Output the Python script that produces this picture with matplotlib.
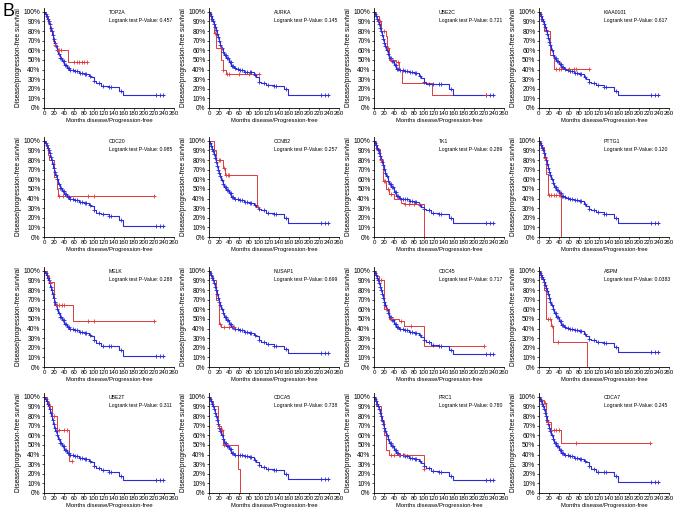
import numpy as np
import matplotlib
matplotlib.use("Agg")
import matplotlib.pyplot as plt

plt.rcParams['font.family'] = ['Liberation Sans', 'DejaVu Sans']

genes = ["TOP2A", "AURKA", "UBE2C", "KIAA0101",
         "CDC20", "CCNB2", "TK1", "PTTG1",
         "MELK", "NUSAP1", "CDC45", "ASPM",
         "UBE2T", "CDCA5", "PRC1", "CDCA7"]
pvalues = ["0.457", "0.145", "0.721", "0.617",
           "0.985", "0.257", "0.289", "0.120",
           "0.288", "0.699", "0.717", "0.0383",
           "0.311", "0.738", "0.780", "0.245"]

# low-expression group (blue), read at these months
blue_t = [0, 2, 4, 6, 8, 10, 12, 14, 16, 18, 20, 22, 25, 28, 31, 35, 40, 45,
          50, 55, 60, 70, 80, 90, 95, 100, 105, 115, 130, 150, 158, 240]
blue_s = {
    "TOP2A":    [100, 98, 96, 93, 90, 87, 83, 80, 76, 72, 68, 64, 60, 56, 52, 49, 45, 42, 40, 39, 38, 36, 35, 33, 32, 28, 26, 23, 22, 18, 14, 14],
    "AURKA":    [100, 98, 96, 93, 90, 87, 84, 81, 77, 74, 70, 66, 62, 58, 55, 52, 48, 44, 42, 41, 39, 37, 37, 34, 32, 27, 26, 24, 23, 20, 14, 14],
    "UBE2C":    [100, 98, 96, 93, 90, 87, 83, 80, 76, 72, 68, 64, 60, 56, 52, 49, 45, 41, 40, 39, 38, 37, 36, 33, 31, 27, 25, 25, 25, 20, 13, 13],
    "KIAA0101": [100, 98, 96, 93, 90, 87, 84, 81, 77, 73, 69, 65, 60, 55, 52, 49, 46, 43, 41, 40, 38, 36, 35, 32, 30, 27, 26, 24, 22, 18, 14, 14],
    "CDC20":    [100, 98, 96, 93, 90, 87, 83, 80, 76, 72, 68, 64, 60, 55, 51, 48, 45, 42, 40, 39, 38, 36, 35, 33, 32, 28, 25, 24, 22, 18, 11, 11],
    "CCNB2":    [100, 98, 95, 92, 89, 86, 82, 78, 74, 70, 67, 63, 59, 55, 52, 49, 46, 42, 40, 39, 38, 36, 35, 33, 31, 29, 28, 25, 24, 20, 15, 15],
    "TK1":      [100, 98, 96, 93, 90, 87, 84, 81, 78, 75, 71, 67, 63, 58, 55, 52, 47, 43, 41, 40, 39, 37, 36, 33, 31, 29, 28, 25, 24, 20, 15, 15],
    "PTTG1":    [100, 98, 96, 93, 90, 87, 83, 80, 76, 72, 68, 64, 60, 56, 52, 49, 46, 43, 42, 41, 40, 38, 37, 34, 32, 29, 28, 26, 24, 20, 15, 15],
    "MELK":     [100, 98, 96, 93, 90, 87, 83, 80, 76, 72, 68, 64, 60, 56, 52, 49, 45, 42, 40, 39, 38, 36, 35, 33, 32, 28, 25, 22, 22, 18, 11, 11],
    "NUSAP1":   [100, 98, 96, 93, 90, 87, 83, 80, 76, 72, 68, 64, 60, 56, 52, 49, 45, 42, 40, 39, 38, 36, 35, 33, 32, 28, 26, 24, 22, 19, 15, 15],
    "CDC45":    [100, 98, 96, 93, 90, 87, 83, 80, 76, 72, 68, 64, 60, 56, 52, 49, 45, 42, 40, 39, 38, 36, 35, 33, 31, 28, 26, 23, 22, 18, 13, 13],
    "ASPM":     [100, 98, 96, 94, 91, 88, 85, 82, 79, 76, 72, 68, 64, 60, 56, 52, 48, 44, 42, 41, 40, 38, 37, 34, 32, 29, 28, 26, 25, 21, 16, 16],
    "UBE2T":    [100, 98, 96, 93, 90, 87, 83, 80, 76, 72, 68, 64, 60, 56, 52, 49, 45, 42, 40, 39, 38, 36, 35, 33, 32, 28, 26, 24, 22, 18, 14, 14],
    "CDCA5":    [100, 98, 96, 93, 90, 87, 83, 80, 76, 72, 68, 64, 60, 56, 52, 49, 46, 42, 40, 39, 39, 38, 37, 34, 32, 29, 27, 25, 24, 20, 15, 15],
    "PRC1":     [100, 98, 96, 93, 90, 87, 83, 80, 76, 72, 68, 64, 60, 56, 52, 49, 45, 42, 40, 39, 38, 36, 35, 33, 31, 28, 26, 23, 22, 18, 13, 13],
    "CDCA7":    [100, 98, 96, 93, 90, 87, 83, 80, 76, 72, 68, 64, 60, 56, 52, 49, 45, 42, 40, 39, 38, 36, 35, 33, 32, 28, 25, 22, 22, 18, 11, 11],
}
blue_cens = [3, 5, 7, 9, 11, 13, 15, 17, 19, 21, 23, 26, 29, 32, 34, 37, 39, 42,
             44, 47, 49, 52, 58, 62, 66, 72, 76, 82, 85, 92, 100, 110, 118, 130,
             135, 155, 225, 232, 238]

# high-expression group (red)
red_t = {
    "TOP2A":    [0, 4, 8, 12, 18, 21, 25, 48, 87],
    "AURKA":    [0, 5, 10, 15, 25, 28, 35, 100],
    "UBE2C":    [0, 4, 10, 15, 25, 27, 30, 45, 50, 57, 117, 225],
    "KIAA0101": [0, 5, 10, 22, 30, 100],
    "CDC20":    [0, 4, 8, 10, 20, 25, 27, 220],
    "CCNB2":    [0, 5, 10, 15, 28, 32, 97, 98],
    "TK1":      [0, 5, 12, 18, 25, 30, 40, 55, 60, 100, 101],
    "PTTG1":    [0, 5, 10, 14, 18, 45, 45.5],
    "MELK":     [0, 5, 10, 20, 58, 220],
    "NUSAP1":   [0, 4, 8, 15, 20, 25, 50],
    "CDC45":    [0, 5, 10, 20, 30, 50, 60, 100, 220],
    "ASPM":     [0, 5, 10, 15, 25, 28, 97, 97.5],
    "UBE2T":    [0, 5, 10, 15, 25, 50, 55],
    "CDCA5":    [0, 4, 8, 18, 25, 28, 58, 62, 62.5],
    "PRC1":     [0, 5, 15, 20, 25, 30, 100, 101],
    "CDCA7":    [0, 5, 10, 15, 25, 45, 222],
}
red_s = {
    "TOP2A":    [100, 95, 88, 80, 70, 65, 60, 48, 48],
    "AURKA":    [100, 90, 78, 62, 50, 40, 35, 35],
    "UBE2C":    [100, 96, 90, 80, 75, 62, 50, 48, 40, 26, 13, 13],
    "KIAA0101": [100, 90, 80, 55, 41, 41],
    "CDC20":    [100, 95, 85, 80, 62, 50, 43, 43],
    "CCNB2":    [100, 100, 90, 80, 72, 64, 31, 31],
    "TK1":      [100, 92, 80, 58, 50, 45, 40, 35, 34, 0, 0],
    "PTTG1":    [100, 94, 82, 65, 44, 0, 0],
    "MELK":     [100, 95, 88, 64, 48, 48],
    "NUSAP1":   [100, 95, 90, 70, 45, 42, 42],
    "CDC45":    [100, 95, 90, 60, 50, 48, 43, 22, 22],
    "ASPM":     [100, 92, 80, 50, 43, 26, 0, 0],
    "UBE2T":    [100, 95, 90, 80, 65, 33, 33],
    "CDCA5":    [100, 96, 90, 70, 65, 50, 25, 0, 0],
    "PRC1":     [100, 90, 75, 60, 45, 40, 25, 25],
    "CDCA7":    [100, 97, 94, 74, 65, 52, 52],
}
red_cens = {
    "TOP2A":    [22, 27, 30, 33, 60, 65, 70, 75, 80, 87],
    "AURKA":    [13, 24, 29, 37, 40, 60, 80, 100],
    "UBE2C":    [12, 20, 28, 35, 48, 225],
    "KIAA0101": [35, 40, 45, 60, 70, 75, 100],
    "CDC20":    [30, 38, 88, 100, 220],
    "CCNB2":    [20, 23, 30, 35, 38, 40, 98],
    "TK1":      [15, 20, 22, 28, 35, 62, 70, 80, 90],
    "PTTG1":    [12, 20, 25, 30, 35, 40, 43],
    "MELK":     [12, 25, 30, 35, 40, 88, 100, 220],
    "NUSAP1":   [22, 30, 40, 50],
    "CDC45":    [15, 25, 35, 55, 75, 220],
    "ASPM":     [18, 22, 27, 38],
    "UBE2T":    [12, 20, 30, 40, 45, 55],
    "CDCA5":    [20, 26, 30],
    "PRC1":     [35, 40, 50, 60, 100],
    "CDCA7":    [12, 18, 30, 35, 40, 75, 222],
}

BLUE = "#2b2bd8"
RED = "#e23a3a"


def step_value(t, s, c):
    i = np.searchsorted(t, c, side="right") - 1
    return np.asarray(s)[i]


fig = plt.figure(figsize=(6.77, 5.13), dpi=100)
lefts = [0.065, 0.3087, 0.5524, 0.796]
bottoms = [0.7895, 0.538, 0.2846, 0.039]

for k, g in enumerate(genes):
    r, c = divmod(k, 4)
    ax = fig.add_axes([lefts[c], bottoms[r], 0.192, 0.195])

    rt, rs = red_t[g], red_s[g]
    ax.step(rt, rs, where="post", color=RED, lw=0.7)
    ax.step(blue_t, blue_s[g], where="post", color=BLUE, lw=0.8)
    bc = [x for x in blue_cens if x <= blue_t[-1]]
    ax.plot(bc, step_value(blue_t, blue_s[g], bc), "+", color=BLUE, ms=2.5, mew=0.6)
    rc = red_cens[g]
    ax.plot(rc, step_value(rt, rs, rc), "+", color=RED, ms=2.5, mew=0.6)

    ax.set_xlim(0, 260)
    ax.set_ylim(0, 104)
    ax.set_xticks(range(0, 261, 20))
    ax.set_yticks(range(0, 101, 10))
    ax.set_yticklabels([f"{v}%" for v in range(0, 101, 10)])
    ax.tick_params(length=1.5, width=0.5, pad=1)
    ax.tick_params(axis="x", labelsize=4.4)
    ax.tick_params(axis="y", labelsize=4.8)
    for side in ["top", "right"]:
        ax.spines[side].set_visible(False)
    for side in ["left", "bottom"]:
        ax.spines[side].set_linewidth(0.6)
    ax.set_xlabel("Months disease/Progression-free", fontsize=4.2, labelpad=1)
    ax.set_ylabel("Disease/progression-free survival", fontsize=4.8, labelpad=1)
    ax.text(0.50, 0.95, g, transform=ax.transAxes, fontsize=3.7, va="center")
    ax.text(0.50, 0.87, "Logrank test P-Value: " + pvalues[k],
            transform=ax.transAxes, fontsize=3.7, va="center")

fig.text(0.004, 0.995, "B", fontsize=13, va="top", ha="left")

fig.savefig("out.png", dpi=100)
